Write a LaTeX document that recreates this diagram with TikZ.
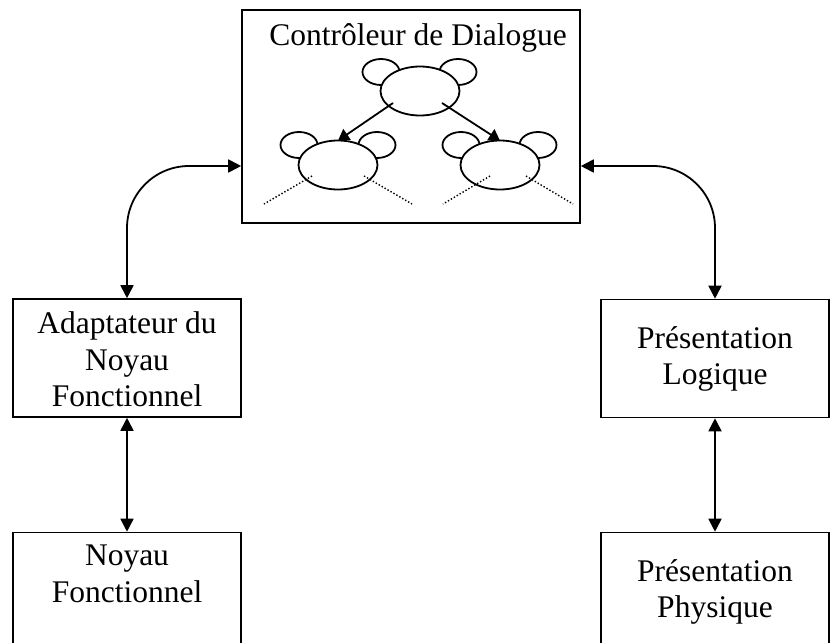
\documentclass[tikz,border=0pt]{standalone}
\usepackage{fontspec}
\setmainfont{Liberation Serif}
\usetikzlibrary{
    arrows.meta,
    shapes.geometric,
    positioning
}

\tikzset{
    box/.style={draw, line width=1.6pt, minimum width=228pt, minimum height=118pt, inner sep=0pt},
    lbl/.style={inner sep=0pt, align=center, font=\fontsize{31.5}{36.5}\selectfont},
    link/.style={line width=1.8pt, {Triangle[length=13pt,width=13pt]}-{Triangle[length=13pt,width=13pt]}},
    head/.style={draw, ellipse, fill=white, line width=1.8pt, minimum width=79pt, minimum height=49pt, inner sep=0pt},
    ear/.style={draw, ellipse, line width=1.8pt, minimum width=37pt, minimum height=26pt, inner sep=0pt},
    branch/.style={line width=1.8pt, -{Triangle[length=11pt,width=13pt]}},
    dotline/.style={line width=1.4pt, dash pattern=on 1.4pt off 2pt}
}

\begin{document}
\begin{tikzpicture}[x=1pt, y=-1pt]
    \useasboundingbox (0,0) rectangle (831,643);

    % boxes
    \node[box, minimum width=338pt, minimum height=213pt] (ctrl) at (411,116.5) {};
    \node[box] (adapt) at (127,358) {};
    \node[box] (noyau) at (127,591.5) {};
    \node[box] (plog) at (715,358.5) {};
    \node[box] (pphys) at (715,591.5) {};

    \node[lbl, anchor=base] (ctrlT) at ([xshift=7pt, yshift=-36pt]ctrl.north) {Contrôleur de Dialogue};
    \node[lbl, below=13.5pt of adapt.north] (adaptT) {Adaptateur du\\Noyau\\Fonctionnel};
    \node[lbl, below=13pt of noyau.north] (noyauT) {Noyau\\Fonctionnel};
    \node[lbl, below=27.5pt of plog.north] (plogT) {Présentation\\Logique};
    \node[lbl, below=27.5pt of pphys.north] (pphysT) {Présentation\\Physique};

    % tree of the dialogue controller
    \node[ear] (rootEarL) at (381,72) {};
    \node[ear] (rootEarR) at (458,72) {};
    \node[head] (root) at (420,91) {};
    \node[ear] (kidLEarL) at (299,145) {};
    \node[ear] (kidLEarR) at (377,145) {};
    \node[head] (kidL) at (338,165) {};
    \node[ear] (kidREarL) at (461,145) {};
    \node[ear] (kidREarR) at (538,145) {};
    \node[head] (kidR) at (500,165) {};

    \draw[branch] ([shift={(-27,12)}]root.center) -- ([yshift=-1pt]kidL.north);
    \draw[branch] ([shift={(22,12)}]root.center) -- ([yshift=-1pt]kidR.north);

    \coordinate (dotA) at (264,204);
    \coordinate (dotB) at (412,204);
    \coordinate (dotC) at (443,204);
    \coordinate (dotD) at (573,204);
    \draw[dotline] ([shift={(-26,11)}]kidL.center) -- (dotA);
    \draw[dotline] ([shift={(26,11)}]kidL.center) -- (dotB);
    \draw[dotline] ([shift={(-10,11)}]kidR.center) -- (dotC);
    \draw[dotline] ([shift={(26,11)}]kidR.center) -- (dotD);

    % connectors
    \draw[link, rounded corners=62pt] ([yshift=-49.5pt]ctrl.west) -| (adapt.north);
    \draw[link, rounded corners=62pt] ([yshift=-49.5pt]ctrl.east) -| (plog.north);
    \draw[link] (adapt.south) -- (noyau.north);
    \draw[link] (plog.south) -- (pphys.north);
\end{tikzpicture}
\end{document}
